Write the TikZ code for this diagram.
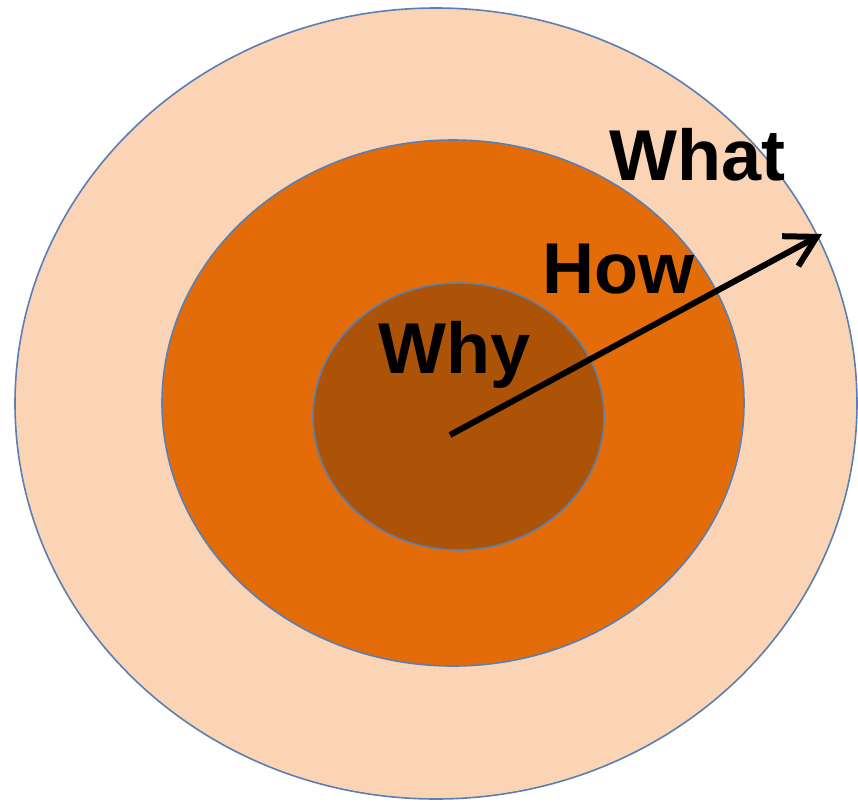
\documentclass[tikz,border=0pt]{standalone}
\usepackage{fontspec}
\setmainfont{Liberation Sans}
\usetikzlibrary{arrows.meta}
\definecolor{ringout}{HTML}{FAD4B4}
\definecolor{ringmid}{HTML}{E46C08}
\definecolor{ringin}{HTML}{AD5307}
\definecolor{ringline}{HTML}{5A7FB2}

\begin{document}
\begin{tikzpicture}[x=0.5pt,y=-0.5pt,
  ring/.style={draw=ringline,line width=0.8pt},
  word/.style={anchor=base west,inner sep=0pt,font=\bfseries\fontsize{36}{40}\selectfont}]
  \useasboundingbox (0,0) rectangle (858,805);
  \filldraw[ring,fill=ringout] (436,403.5) ellipse[x radius=421,y radius=395.5];
  \filldraw[ring,fill=ringmid] (453,403) ellipse[x radius=291,y radius=263];
  \filldraw[ring,fill=ringin] (458.5,416.5) ellipse[x radius=145.5,y radius=133.5];
  \node[word] (what) at (609,180) {What};
  \node[word] (how) at (542,293) {How};
  \node[word] (why) at (378,373) {Why};
  \coordinate (centre) at (450,435);
  \coordinate (rim) at (822,234);
  \draw[line width=3pt,-{Straight Barb[length=15pt,width=17pt]}] (centre) -- (rim);
\end{tikzpicture}
\end{document}
